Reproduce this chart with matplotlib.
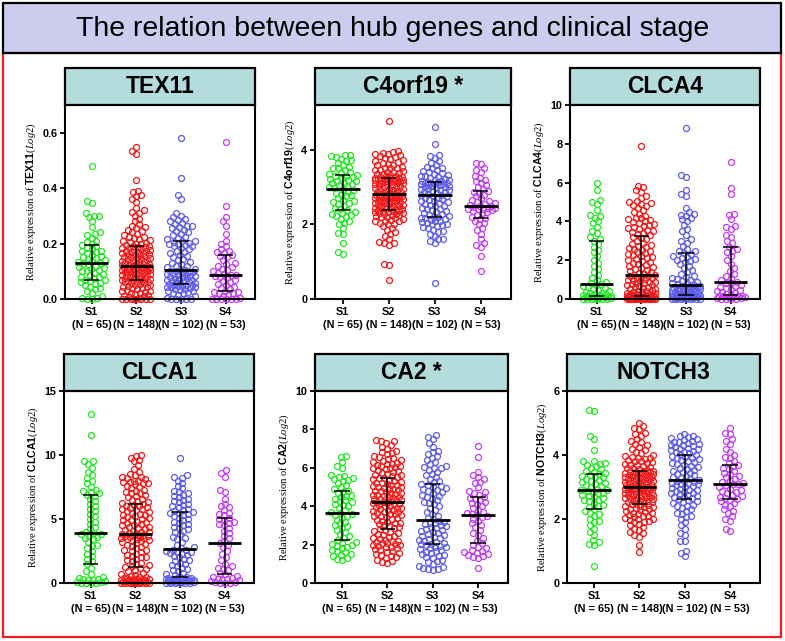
#imports
import numpy as np
import matplotlib
matplotlib.use("Agg")
from matplotlib import pyplot as plt
from matplotlib.patches import Rectangle

#values (one list per stage group)
stages = ["S1", "S2", "S3", "S4"]

tex11_s1 = [0.0, 0.0, 0.003, 0.005, 0.01, 0.02, 0.03, 0.035, 0.04, 0.045, 0.05, 0.055, 0.058, 0.06, 0.064, 0.067,
            0.07, 0.075, 0.078, 0.08, 0.085, 0.09, 0.095, 0.10, 0.10, 0.105, 0.11, 0.112, 0.115, 0.12, 0.125, 0.128,
            0.13, 0.133, 0.137, 0.14, 0.145, 0.148, 0.15, 0.155, 0.16, 0.165, 0.17, 0.172, 0.175, 0.18, 0.185, 0.19,
            0.195, 0.20, 0.205, 0.21, 0.22, 0.23, 0.235, 0.24, 0.26, 0.28, 0.295, 0.30, 0.30, 0.31, 0.345, 0.355, 0.48]
tex11_s2 = [0, 0, 0, 0, 0, 0, 0, 0, 0.005, 0.008, 0.01, 0.012, 0.015, 0.018, 0.02, 0.022, 0.025, 0.028, 0.03, 0.032,
            0.035, 0.038, 0.04, 0.042, 0.045, 0.047, 0.05, 0.052, 0.054, 0.056, 0.058, 0.06, 0.061, 0.062, 0.064, 0.066, 0.067,
            0.07, 0.071, 0.073, 0.075, 0.076, 0.078, 0.08, 0.081, 0.083, 0.085, 0.086, 0.088, 0.09, 0.091, 0.093, 0.095,
            0.096, 0.098, 0.10, 0.10, 0.101, 0.103, 0.104, 0.105, 0.107, 0.108, 0.11, 0.11, 0.111, 0.112, 0.113, 0.115,
            0.116, 0.117, 0.118, 0.119, 0.12,
            0.121, 0.123, 0.126, 0.127, 0.129, 0.13, 0.133, 0.134, 0.137, 0.138, 0.14, 0.143, 0.144, 0.147, 0.148, 0.15,
            0.153, 0.154, 0.157, 0.158, 0.16, 0.162, 0.165, 0.166, 0.169, 0.17, 0.172, 0.175, 0.176, 0.178, 0.18, 0.183,
            0.184, 0.186, 0.188, 0.19, 0.192,
            0.195, 0.198, 0.20, 0.203, 0.205, 0.21, 0.213, 0.215, 0.22, 0.222, 0.225, 0.23, 0.235, 0.24, 0.245, 0.25,
            0.255, 0.26, 0.265, 0.27, 0.28, 0.29, 0.30, 0.31, 0.315, 0.32, 0.33, 0.35, 0.36, 0.37, 0.375, 0.385, 0.39,
            0.43, 0.525, 0.535, 0.55]
tex11_s3 = [0, 0, 0, 0, 0, 0.005, 0.01, 0.015, 0.02, 0.022, 0.025, 0.028, 0.03, 0.032, 0.035, 0.037, 0.04, 0.042,
            0.044, 0.045, 0.046, 0.048, 0.05, 0.051, 0.052,
            0.054, 0.056, 0.058, 0.06, 0.062, 0.064, 0.066, 0.068, 0.07, 0.072, 0.074, 0.076, 0.078, 0.08, 0.082, 0.084,
            0.086, 0.088, 0.09, 0.092, 0.094, 0.096, 0.098, 0.10, 0.102, 0.104,
            0.106, 0.11, 0.114, 0.118, 0.12, 0.125, 0.13, 0.135, 0.14, 0.145, 0.15, 0.155, 0.16, 0.165, 0.17, 0.175,
            0.18, 0.185, 0.19, 0.193, 0.196, 0.2, 0.203, 0.206, 0.208, 0.21,
            0.215, 0.22, 0.225, 0.23, 0.235, 0.24, 0.245, 0.25, 0.255, 0.26, 0.265, 0.27, 0.275, 0.28, 0.285, 0.29,
            0.295, 0.30, 0.31, 0.36, 0.375, 0.435, 0.58, 0.265, 0.2]
tex11_s4 = [0, 0, 0, 0, 0, 0, 0.005, 0.01, 0.015, 0.02, 0.022, 0.025, 0.027,
            0.03, 0.035, 0.04, 0.045, 0.05, 0.055, 0.06, 0.065, 0.07, 0.075, 0.08, 0.083, 0.086,
            0.088,
            0.09, 0.095, 0.10, 0.105, 0.11, 0.115, 0.12, 0.125, 0.13, 0.14, 0.15, 0.155, 0.16,
            0.165, 0.17, 0.175, 0.18, 0.19, 0.20, 0.21, 0.235, 0.265, 0.28, 0.295, 0.335, 0.565]

c4orf19_s1 = [1.2, 1.25, 1.5, 1.75, 1.78, 1.9, 2.0, 2.05, 2.1, 2.15, 2.2, 2.22, 2.25, 2.28, 2.3, 2.33,
              2.38, 2.42, 2.45, 2.5, 2.55, 2.58, 2.6, 2.62, 2.65, 2.7, 2.75, 2.78, 2.8, 2.85, 2.88, 2.92,
              2.95,
              2.97, 3.0, 3.02, 3.05, 3.08, 3.1, 3.12, 3.15, 3.17, 3.2, 3.22, 3.25, 3.27, 3.3, 3.31, 3.32,
              3.35, 3.38, 3.4, 3.45, 3.5, 3.52, 3.55, 3.6, 3.65, 3.7, 3.72, 3.75, 3.8, 3.82, 3.85, 3.87]
c4orf19_s2 = [0.5, 0.9, 0.95, 1.45, 1.5, 1.5, 1.52, 1.6, 1.7, 1.75, 1.8, 1.85, 1.9, 1.95, 2.0, 2.02, 2.05, 2.08,
              2.1, 2.1, 2.12, 2.15, 2.17, 2.2, 2.2, 2.22, 2.24, 2.25, 2.27, 2.28, 2.3, 2.31, 2.32, 2.33, 2.35, 2.36, 2.37,
              2.38, 2.4, 2.41, 2.42, 2.44, 2.45, 2.46, 2.48, 2.5, 2.5, 2.51, 2.52, 2.54, 2.55, 2.56, 2.58, 2.6, 2.6,
              2.61, 2.62, 2.64, 2.65, 2.66, 2.68, 2.7, 2.7, 2.71, 2.72, 2.73, 2.74, 2.75, 2.76, 2.77, 2.78, 2.78, 2.79, 2.8,
              2.81, 2.82, 2.84, 2.85, 2.86, 2.88, 2.9, 2.9, 2.92, 2.93, 2.95, 2.96, 2.98, 3.0, 3.0, 3.02, 3.03, 3.05,
              3.06, 3.08, 3.1, 3.1, 3.11, 3.12, 3.14, 3.15, 3.16, 3.17, 3.18, 3.19, 3.2, 3.2, 3.21, 3.22, 3.22, 3.23, 3.23,
              3.24, 3.25, 3.27, 3.28, 3.3, 3.3, 3.32, 3.34, 3.35, 3.37, 3.4, 3.4, 3.42, 3.45, 3.47, 3.5, 3.5, 3.52,
              3.55, 3.58, 3.6, 3.62, 3.65, 3.68, 3.7, 3.72, 3.75, 3.78, 3.8, 3.82, 3.85, 3.88, 3.9, 3.92, 3.95, 3.98, 4.78]
c4orf19_s3 = [0.42, 1.5, 1.55, 1.6, 1.62, 1.7, 1.75, 1.8, 1.82, 1.85, 1.9, 1.92, 1.95, 1.98, 2.0, 2.02, 2.05, 2.07,
              2.1, 2.1, 2.12, 2.15, 2.16, 2.18, 2.19,
              2.2, 2.22, 2.25, 2.28, 2.3, 2.32, 2.35, 2.38, 2.4, 2.42, 2.45, 2.48, 2.5, 2.52, 2.55, 2.57, 2.6, 2.62,
              2.64, 2.66, 2.68, 2.7, 2.72, 2.75, 2.77, 2.79,
              2.8, 2.82, 2.84, 2.86, 2.88, 2.9, 2.92, 2.93, 2.95, 2.96, 2.98, 3.0, 3.0, 3.02, 3.03, 3.05, 3.06, 3.07,
              3.08, 3.09, 3.1, 3.11, 3.12, 3.13, 3.14, 3.15,
              3.16, 3.18, 3.2, 3.22, 3.25, 3.28, 3.3, 3.3, 3.32, 3.35, 3.38, 3.4, 3.42, 3.45, 3.5, 3.52, 3.55, 3.6,
              3.65, 3.7, 3.78, 3.82, 3.85, 4.15, 4.6]
c4orf19_s4 = [0.75, 1.15, 1.4, 1.45, 1.5, 1.6, 1.75, 1.85, 1.9, 2.0, 2.05, 2.1, 2.15,
              2.18, 2.2, 2.25, 2.3, 2.33, 2.35, 2.38, 2.4, 2.4, 2.42, 2.44, 2.45, 2.47,
              2.48,
              2.5, 2.52, 2.55, 2.58, 2.6, 2.62, 2.65, 2.7, 2.75, 2.8, 2.85, 2.88, 2.9,
              2.95, 3.0, 3.05, 3.1, 3.15, 3.2, 3.25, 3.3, 3.4, 3.45, 3.5, 3.62, 3.65]

clca4_s1 = [0, 0, 0, 0, 0, 0.02, 0.03, 0.05, 0.06, 0.08, 0.09, 0.1, 0.11, 0.12, 0.13, 0.14,
            0.16, 0.18, 0.2, 0.22, 0.25, 0.28, 0.3, 0.33, 0.36, 0.4, 0.45, 0.5, 0.55, 0.6, 0.65, 0.7,
            0.75,
            0.8, 0.9, 1.0, 1.1, 1.25, 1.4, 1.55, 1.7, 1.85, 2.0, 2.2, 2.4, 2.55, 2.7, 2.85, 3.0,
            3.1, 3.2, 3.4, 3.5, 3.7, 3.9, 4.0, 4.2, 4.3, 4.35, 4.6, 4.9, 5.0, 5.1, 5.6, 6.0]
clca4_s2 = [0, 0, 0, 0, 0, 0, 0, 0, 0, 0, 0.01, 0.02, 0.02, 0.03, 0.03, 0.04, 0.05, 0.05, 0.06, 0.06, 0.07,
            0.07, 0.08, 0.08, 0.09, 0.09, 0.1, 0.1, 0.11, 0.11, 0.12, 0.12, 0.13, 0.13, 0.14, 0.14, 0.15,
            0.16, 0.18, 0.2, 0.22, 0.24, 0.26, 0.28, 0.3, 0.32, 0.35, 0.38, 0.4, 0.43, 0.46, 0.5, 0.53, 0.56, 0.6,
            0.63, 0.66, 0.7, 0.73, 0.76, 0.8, 0.83, 0.86, 0.9, 0.93, 0.96, 1.0, 1.03, 1.06, 1.1, 1.13, 1.16, 1.19, 1.22,
            1.25, 1.3, 1.35, 1.4, 1.45, 1.5, 1.55, 1.6, 1.65, 1.7, 1.75, 1.8, 1.85, 1.9, 1.95, 2.0, 2.05, 2.1, 2.15,
            2.2, 2.25, 2.3, 2.35, 2.4, 2.5, 2.55, 2.6, 2.65, 2.7, 2.75, 2.8, 2.85, 2.9, 3.0, 3.1, 3.15, 3.2,
            3.3, 3.35, 3.4, 3.45, 3.5, 3.55, 3.6, 3.65, 3.7, 3.75, 3.8, 3.85, 3.9, 3.95, 4.0, 4.05, 4.1, 4.15, 4.2,
            4.3, 4.4, 4.5, 4.6, 4.7, 4.8, 4.85, 4.9, 4.95, 5.0, 5.05, 5.2, 5.3, 5.5, 5.6, 5.75, 5.85, 7.9]
clca4_s3 = [0, 0, 0, 0, 0, 0, 0.02, 0.03, 0.04, 0.05, 0.06, 0.07, 0.08, 0.09, 0.1, 0.11, 0.12, 0.13, 0.14,
            0.15, 0.15, 0.16, 0.16, 0.17, 0.17,
            0.18, 0.2, 0.22, 0.24, 0.26, 0.28, 0.3, 0.32, 0.34, 0.36, 0.38, 0.4, 0.42, 0.44, 0.46, 0.48, 0.5, 0.52,
            0.54, 0.56, 0.58, 0.6, 0.62, 0.64, 0.66, 0.69,
            0.72, 0.76, 0.8, 0.85, 0.9, 0.95, 1.0, 1.05, 1.1, 1.15, 1.2, 1.3, 1.4, 1.5, 1.6, 1.7, 1.8, 1.9, 1.95,
            2.0, 2.05, 2.1, 2.15, 2.2, 2.3, 2.38,
            2.45, 2.5, 2.6, 2.75, 2.9, 3.0, 3.1, 3.3, 3.5, 3.6, 3.8, 4.0, 4.1, 4.2, 4.3, 4.35, 4.4, 4.5, 4.7, 5.3,
            5.4, 5.6, 6.3, 6.4, 8.8]
clca4_s4 = [0, 0, 0, 0.02, 0.04, 0.06, 0.08, 0.1, 0.12, 0.13, 0.15, 0.16, 0.17,
            0.2, 0.25, 0.3, 0.35, 0.4, 0.45, 0.5, 0.55, 0.6, 0.65, 0.7, 0.8, 0.85,
            0.9,
            1.0, 1.1, 1.2, 1.3, 1.45, 1.6, 1.8, 2.0, 2.2, 2.4, 2.5, 2.6, 2.7,
            2.9, 3.0, 3.2, 3.3, 3.6, 3.7, 3.75, 4.1, 4.35, 4.4, 5.4, 5.7, 7.05]

clca1_s1 = [0, 0, 0, 0, 0.05, 0.1, 0.15, 0.2, 0.25, 0.3, 0.35, 0.4, 0.5, 0.7, 0.9, 1.2,
            1.5, 1.7, 1.9, 2.1, 2.3, 2.5, 2.7, 2.9, 3.0, 3.2, 3.4, 3.5, 3.6, 3.7, 3.8, 3.85,
            3.9,
            4.0, 4.2, 4.4, 4.6, 4.8, 5.0, 5.2, 5.4, 5.6, 5.8, 6.0, 6.2, 6.4, 6.6, 6.8, 6.9,
            7.0, 7.1, 7.2, 7.3, 7.5, 7.8, 8.0, 8.2, 8.4, 8.7, 9.0, 9.3, 9.5, 9.5, 11.6, 13.2]
clca1_s2 = [0, 0, 0, 0, 0, 0, 0, 0, 0.02, 0.04, 0.06, 0.08, 0.1, 0.12, 0.14, 0.16, 0.18, 0.2, 0.22, 0.25,
            0.28, 0.3, 0.32, 0.35, 0.38, 0.4, 0.45, 0.5, 0.55, 0.6, 0.7, 0.8, 0.9, 1.0, 1.1, 1.2, 1.23,
            1.3, 1.4, 1.5, 1.6, 1.7, 1.8, 1.9, 2.0, 2.05, 2.1, 2.2, 2.3, 2.4, 2.5, 2.55, 2.6, 2.7, 2.8, 2.9, 3.0,
            3.05, 3.1, 3.2, 3.25, 3.3, 3.35, 3.4, 3.45, 3.5, 3.55, 3.6, 3.62, 3.65, 3.7, 3.72, 3.75, 3.78,
            3.82, 3.9, 3.95, 4.0, 4.1, 4.15, 4.2, 4.3, 4.35, 4.4, 4.5, 4.55, 4.6, 4.7, 4.75, 4.8, 4.9, 4.95, 5.0,
            5.1, 5.15, 5.2, 5.3, 5.35, 5.4, 5.5, 5.55, 5.6, 5.7, 5.75, 5.8, 5.85, 5.9, 6.0, 6.05, 6.1, 6.15,
            6.25, 6.3, 6.4, 6.5, 6.6, 6.7, 6.8, 6.9, 7.0, 7.0, 7.1, 7.2, 7.3, 7.4, 7.5, 7.6, 7.7, 7.8, 7.8, 7.9,
            7.9, 8.0, 8.0, 8.1, 8.2, 8.3, 8.3, 8.4, 8.5, 8.7, 8.9, 9.2, 9.5, 9.6, 9.8, 9.9, 10.0]
clca1_s3 = [0, 0, 0, 0, 0, 0.02, 0.04, 0.06, 0.08, 0.1, 0.12, 0.14, 0.16, 0.18, 0.2, 0.22, 0.24, 0.26, 0.28,
            0.3, 0.32, 0.34, 0.36, 0.38, 0.39,
            0.45, 0.5, 0.6, 0.7, 0.8, 0.9, 1.0, 1.1, 1.2, 1.3, 1.4, 1.5, 1.6, 1.7, 1.8, 1.9, 2.0, 2.1, 2.2, 2.3,
            2.35, 2.4, 2.45, 2.5, 2.55, 2.6,
            2.7, 2.8, 3.0, 3.2, 3.4, 3.5, 3.6, 3.8, 4.0, 4.1, 4.2, 4.3, 4.4, 4.5, 4.6, 4.7, 4.8, 4.9, 5.0, 5.1,
            5.2, 5.3, 5.4, 5.45, 5.5, 5.55,
            5.65, 5.7, 5.8, 5.9, 6.0, 6.1, 6.2, 6.3, 6.4, 6.5, 6.6, 6.7, 6.8, 6.9, 7.0, 7.1, 7.2, 7.4, 7.6, 7.8,
            8.0, 8.2, 8.3, 8.4, 9.8]
clca1_s4 = [0, 0, 0, 0.05, 0.1, 0.15, 0.2, 0.25, 0.3, 0.35, 0.4, 0.5, 0.55,
            0.7, 0.8, 1.0, 1.1, 1.2, 1.3, 1.5, 1.8, 2.0, 2.3, 2.5, 2.8, 3.0,
            3.1,
            3.3, 3.5, 3.7, 3.9, 4.1, 4.3, 4.5, 4.6, 4.7, 4.8, 4.9, 5.0, 5.1,
            5.3, 5.4, 5.5, 5.7, 5.9, 6.0, 6.2, 6.6, 7.1, 7.3, 8.3, 8.6, 8.8]

ca2_s1 = [1.2, 1.25, 1.3, 1.4, 1.45, 1.5, 1.6, 1.65, 1.7, 1.8, 1.9, 1.95, 2.0, 2.05, 2.1, 2.15,
          2.25, 2.35, 2.45, 2.55, 2.65, 2.75, 2.85, 2.95, 3.0, 3.1, 3.2, 3.3, 3.4, 3.5, 3.55, 3.6,
          3.65,
          3.7, 3.8, 3.9, 4.0, 4.05, 4.1, 4.2, 4.25, 4.3, 4.4, 4.5, 4.55, 4.6, 4.7, 4.75, 4.8,
          4.9, 5.0, 5.1, 5.2, 5.3, 5.35, 5.4, 5.45, 5.5, 5.55, 5.6, 6.0, 6.1, 6.3, 6.55, 6.6]
ca2_s2 = [1.05, 1.1, 1.15, 1.2, 1.3, 1.35, 1.4, 1.45, 1.5, 1.55, 1.6, 1.65, 1.7, 1.75, 1.8, 1.85, 1.9, 1.95,
          2.0, 2.0, 2.05, 2.1, 2.1, 2.15, 2.2, 2.2, 2.25, 2.3, 2.35, 2.4, 2.45, 2.5, 2.55, 2.6, 2.65, 2.7, 2.75,
          2.8, 2.85, 2.9, 2.95, 3.0, 3.05, 3.1, 3.15, 3.2, 3.25, 3.3, 3.35, 3.4, 3.45, 3.5, 3.5, 3.55, 3.6, 3.6,
          3.65, 3.7, 3.7, 3.75, 3.8, 3.8, 3.85, 3.9, 3.9, 3.95, 4.0, 4.0, 4.05, 4.1, 4.1, 4.15, 4.15, 4.2,
          4.22, 4.25, 4.3, 4.3, 4.35, 4.4, 4.4, 4.45, 4.5, 4.5, 4.55, 4.6, 4.6, 4.65, 4.7, 4.7, 4.75, 4.8, 4.8,
          4.85, 4.9, 4.9, 4.95, 5.0, 5.0, 5.05, 5.1, 5.1, 5.15, 5.2, 5.2, 5.25, 5.3, 5.35, 5.4, 5.45, 5.48,
          5.52, 5.55, 5.6, 5.65, 5.7, 5.75, 5.8, 5.85, 5.9, 5.95, 6.0, 6.0, 6.05, 6.1, 6.1, 6.15, 6.2, 6.2, 6.25,
          6.3, 6.35, 6.4, 6.45, 6.5, 6.55, 6.6, 6.7, 6.75, 6.8, 6.9, 7.0, 7.1, 7.2, 7.3, 7.4, 7.4, 7.45]
ca2_s3 = [0.7, 0.72, 0.75, 0.8, 0.85, 0.9, 1.0, 1.1, 1.15, 1.2, 1.3, 1.35, 1.4, 1.45, 1.5, 1.55, 1.6, 1.65,
          1.7, 1.75, 1.8, 1.85, 1.9, 1.95, 1.98,
          2.02, 2.05, 2.1, 2.15, 2.2, 2.25, 2.3, 2.35, 2.4, 2.45, 2.5, 2.55, 2.6, 2.65, 2.7, 2.75, 2.8, 2.85,
          2.9, 2.95, 3.0, 3.05, 3.1, 3.15, 3.2, 3.25,
          3.35, 3.4, 3.5, 3.6, 3.7, 3.8, 3.9, 4.0, 4.1, 4.15, 4.2, 4.3, 4.4, 4.5, 4.55, 4.6, 4.7, 4.75, 4.8,
          4.85, 4.9, 4.95, 5.0, 5.05, 5.1, 5.15,
          5.25, 5.3, 5.4, 5.5, 5.6, 5.7, 5.8, 5.9, 6.0, 6.0, 6.05, 6.1, 6.2, 6.3, 6.4, 6.5, 6.6, 6.7, 6.8, 6.9,
          7.1, 7.3, 7.5, 7.6, 7.7]
ca2_s4 = [0.8, 1.3, 1.35, 1.4, 1.45, 1.5, 1.55, 1.6, 1.65, 1.7, 1.8, 1.9, 2.0,
          2.1, 2.2, 2.35, 2.5, 2.6, 2.75, 2.9, 3.0, 3.1, 3.25, 3.35, 3.45, 3.5,
          3.55,
          3.6, 3.65, 3.7, 3.8, 3.9, 4.0, 4.1, 4.15, 4.2, 4.3, 4.4, 4.45, 4.5,
          4.6, 4.7, 4.75, 4.8, 5.0, 5.2, 5.25, 5.4, 5.5, 5.6, 5.8, 6.55, 7.15]

notch3_s1 = [0.52, 1.2, 1.22, 1.28, 1.35, 1.5, 1.6, 1.7, 1.8, 1.9, 1.95, 2.0, 2.1, 2.15, 2.2, 2.25,
             2.32, 2.38, 2.42, 2.45, 2.5, 2.55, 2.58, 2.6, 2.65, 2.7, 2.72, 2.75, 2.8, 2.82, 2.85, 2.88,
             2.9,
             2.92, 2.95, 3.0, 3.02, 3.05, 3.1, 3.12, 3.15, 3.2, 3.22, 3.25, 3.3, 3.32, 3.35, 3.38, 3.4,
             3.45, 3.48, 3.5, 3.55, 3.6, 3.65, 3.7, 3.72, 3.75, 3.8, 3.82, 4.15, 4.5, 4.6, 5.38, 5.4]
notch3_s2 = [0.98, 1.2, 1.45, 1.5, 1.55, 1.6, 1.65, 1.7, 1.75, 1.8, 1.85, 1.9, 1.92, 1.95, 1.98, 2.0, 2.0, 2.02,
             2.05, 2.08, 2.1, 2.12, 2.15, 2.18, 2.2, 2.22, 2.25, 2.27, 2.3, 2.32, 2.34, 2.36, 2.38, 2.4, 2.42, 2.44, 2.46,
             2.48, 2.5, 2.52, 2.54, 2.55, 2.57, 2.58, 2.6, 2.62, 2.63, 2.65, 2.66, 2.68, 2.7, 2.71, 2.72, 2.74, 2.75,
             2.77, 2.78, 2.8, 2.81, 2.82, 2.84, 2.85, 2.87, 2.88, 2.9, 2.91, 2.92, 2.93, 2.94, 2.95, 2.96, 2.97, 2.98, 2.99,
             3.0, 3.01, 3.02, 3.04, 3.05, 3.07, 3.08, 3.1, 3.12, 3.13, 3.15, 3.16, 3.18, 3.2, 3.21, 3.22, 3.24, 3.25,
             3.27, 3.28, 3.3, 3.31, 3.32, 3.34, 3.35, 3.37, 3.38, 3.4, 3.41, 3.42, 3.44, 3.45, 3.46, 3.48, 3.49, 3.5, 3.51,
             3.53, 3.55, 3.58, 3.6, 3.62, 3.65, 3.68, 3.7, 3.72, 3.75, 3.78, 3.8, 3.82, 3.85, 3.88, 3.9, 3.92, 3.95,
             3.98, 4.0, 4.05, 4.1, 4.15, 4.2, 4.25, 4.3, 4.35, 4.4, 4.45, 4.5, 4.6, 4.65, 4.7, 4.8, 4.85, 4.9, 5.0]
notch3_s3 = [0.85, 0.95, 1.0, 1.3, 1.32, 1.5, 1.55, 1.7, 1.8, 1.9, 2.0, 2.05, 2.1, 2.15, 2.2, 2.25, 2.3, 2.35,
             2.4, 2.42, 2.45, 2.5, 2.52, 2.55, 2.58,
             2.62, 2.65, 2.68, 2.7, 2.72, 2.75, 2.78, 2.8, 2.82, 2.85, 2.88, 2.9, 2.92, 2.95, 2.98, 3.0, 3.02, 3.05,
             3.08, 3.1, 3.12, 3.14, 3.16, 3.18, 3.2, 3.21,
             3.25, 3.28, 3.3, 3.33, 3.36, 3.4, 3.43, 3.46, 3.5, 3.53, 3.56, 3.6, 3.63, 3.66, 3.7, 3.72, 3.75, 3.78,
             3.8, 3.83, 3.86, 3.9, 3.92, 3.95, 3.97, 3.99,
             4.02, 4.05, 4.08, 4.1, 4.12, 4.15, 4.18, 4.2, 4.22, 4.25, 4.28, 4.3, 4.32, 4.35, 4.38, 4.4, 4.42, 4.45,
             4.48, 4.5, 4.52, 4.55, 4.58, 4.6, 4.65]
notch3_s4 = [1.62, 1.7, 1.95, 2.0, 2.1, 2.2, 2.25, 2.3, 2.4, 2.45, 2.5, 2.55, 2.6,
             2.63, 2.65, 2.7, 2.72, 2.75, 2.8, 2.85, 2.88, 2.9, 2.95, 3.0, 3.05, 3.08,
             3.1,
             3.12, 3.15, 3.2, 3.25, 3.3, 3.35, 3.4, 3.45, 3.5, 3.55, 3.6, 3.65, 3.68,
             3.75, 3.8, 3.9, 3.95, 4.0, 4.1, 4.2, 4.35, 4.45, 4.5, 4.65, 4.7, 4.85]

#panel names, title text, y range and ticks
panel_titles = ["TEX11", "C4orf19 *", "CLCA4", "CLCA1", "CA2 *", "NOTCH3"]
gene_names = ["TEX11", "C4orf19", "CLCA4", "CLCA1", "CA2", "NOTCH3"]
panel_data = [[tex11_s1, tex11_s2, tex11_s3, tex11_s4],
              [c4orf19_s1, c4orf19_s2, c4orf19_s3, c4orf19_s4],
              [clca4_s1, clca4_s2, clca4_s3, clca4_s4],
              [clca1_s1, clca1_s2, clca1_s3, clca1_s4],
              [ca2_s1, ca2_s2, ca2_s3, ca2_s4],
              [notch3_s1, notch3_s2, notch3_s3, notch3_s4]]
y_max = [0.7, 5.2, 10, 15, 10, 6]
y_ticks = [[0, 0.2, 0.4, 0.6], [0, 2, 4], [0, 2, 4, 6, 8, 10], [0, 5, 10, 15], [0, 2, 4, 6, 8, 10], [0, 2, 4, 6]]
y_fmt = ["%.1f", "%d", "%d", "%d", "%d", "%d"]

colors = ["#22e622", "#f01818", "#5c5ce8", "#c23cf2"]

#fonts
plt.rcParams['font.family'] = ['Liberation Sans', 'DejaVu Sans']
plt.rcParams['mathtext.fontset'] = 'custom'
plt.rcParams['mathtext.rm'] = 'Liberation Serif'
plt.rcParams['mathtext.it'] = 'Liberation Serif:italic'
plt.rcParams['mathtext.bf'] = 'Liberation Sans:bold'

W, H = 785, 641
fig = plt.figure(figsize=(W / 100, H / 100), dpi=100)

#header box and red frame (pixel coords from top-left)
def px_rect(x0, y0, x1, y1, **kw):
    return Rectangle((x0 / W, 1 - y1 / H), (x1 - x0) / W, (y1 - y0) / H, transform=fig.transFigure, **kw)

fig.patches.append(px_rect(3, 53, 781, 637, fill=False, edgecolor="#ee1c1c", lw=1.6))
fig.patches.append(px_rect(3, 3, 781, 53, facecolor="#ccccee", edgecolor="black", lw=1.6))
fig.text(0.5, 1 - 28.5 / H, "The relation between hub genes and clinical stage", ha="center", va="center",
         fontsize=20.5)

#axes boxes (left, top, right, bottom) in pixels
boxes = [(65, 105, 255, 299), (315, 105, 511, 299), (570, 105, 760, 299),
         (64, 391, 254, 583), (315, 391, 508, 583), (567, 391, 760, 583)]
title_h = 37
x_lo, x_hi = -0.6, 3.66
dot_d = 5.0      # px wanted between dot centres
half_w = 14.0    # px, widest half spread of a swarm


#beeswarm with a capped width: offsets in px for every value
def swarm(vals, px_per_y, d, limit):
    ys = np.asarray(vals, float) * px_per_y
    xs = np.zeros(len(ys))
    grid = np.arange(-limit, limit + 0.01, 0.5)
    grid = grid[np.argsort(np.abs(grid), kind="stable")]
    placed_x, placed_y = [], []
    for i in np.argsort(ys, kind="stable"):
        y = ys[i]
        if placed_x:
            px = np.array(placed_x)
            py = np.array(placed_y)
            m = np.abs(py - y) < d
            px, py = px[m], py[m]
        else:
            px = py = np.array([])
        if len(px) == 0:
            best = 0.0
        else:
            dist = np.sqrt((grid[:, None] - px[None, :]) ** 2 + (y - py[None, :]) ** 2).min(axis=1)
            ok = np.where(dist >= d)[0]
            best = grid[ok[0]] if len(ok) else grid[np.argmax(dist)]
        xs[i] = best
        placed_x.append(best)
        placed_y.append(y)
    return xs


for k in range(6):
    l, t, r, b = boxes[k]
    ax = fig.add_axes([l / W, 1 - b / H, (r - l) / W, (b - t) / H])
    ax_w, ax_h = r - l, b - t
    px_x = ax_w / (x_hi - x_lo)
    px_y = ax_h / y_max[k]

    for j, vals in enumerate(panel_data[k]):
        offs = swarm(vals, px_y, dot_d, half_w) / px_x
        ax.plot(j + offs, vals, "o", ms=4.3, mfc="none", mec=colors[j], mew=0.9, clip_on=False, zorder=2)
        q1, med, q3 = np.percentile(vals, [25, 50, 75])
        ax.vlines(j, q1, q3, color="black", lw=1.1, zorder=3)
        ax.hlines([q1, q3], j - 0.17, j + 0.17, color="black", lw=1.1, zorder=3)
        ax.hlines(med, j - 0.37, j + 0.37, color="black", lw=2.0, zorder=3)

    ax.set_xlim(x_lo, x_hi)
    ax.set_ylim(0, y_max[k])
    ax.set_xticks(range(4))
    ax.set_xticklabels(["%s\n(N = %d)" % (s, len(v)) for s, v in zip(stages, panel_data[k])],
                       fontweight="bold", fontsize=7.8, linespacing=1.45)
    ax.set_yticks(y_ticks[k])
    ax.set_yticklabels([y_fmt[k] % v for v in y_ticks[k]], fontweight="bold", fontsize=7.8)
    ax.tick_params(direction="out", length=3.5, width=1.3, pad=2)
    for s in ["left", "bottom", "right"]:
        ax.spines[s].set_linewidth(1.5)
    ax.spines["top"].set_visible(False)
    ax.set_ylabel(r"Relative expression of $\mathbf{%s}$($\mathit{Log2}$)" % gene_names[k],
                  fontfamily="Liberation Serif", fontsize=7.6, labelpad=3)

    #title box on top of the plot area
    hfrac = title_h / ax_h
    ax.add_patch(Rectangle((0, 1), 1, hfrac, transform=ax.transAxes, clip_on=False,
                           facecolor="#b4dcdc", edgecolor="black", lw=1.6, zorder=5))
    ax.text(0.5, 1 + hfrac / 2, panel_titles[k], transform=ax.transAxes, ha="center", va="center",
            fontsize=16.5, fontweight="bold", zorder=6)

fig.savefig("out.png", dpi=100)
